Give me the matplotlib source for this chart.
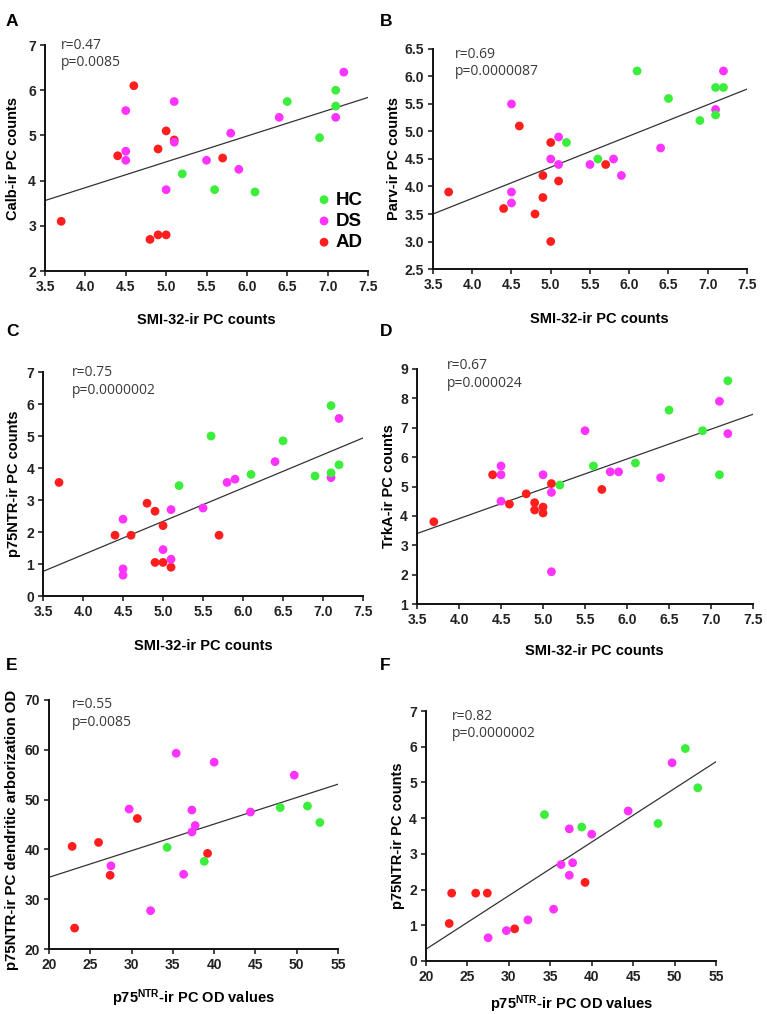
import numpy as np
import matplotlib
matplotlib.use("Agg")
import matplotlib.pyplot as plt

plt.rcParams['font.family'] = ['Liberation Sans', 'DejaVu Sans']
plt.rcParams['mathtext.fontset'] = 'custom'
plt.rcParams['mathtext.rm'] = 'Liberation Sans:bold'
plt.rcParams['mathtext.bf'] = 'Liberation Sans:bold'
plt.rcParams['mathtext.default'] = 'bf'

# Group colours
C_HC = '#3cee3c'
C_DS = '#ff33ff'
C_AD = '#ff1e1e'

# SMI-32-ir PC counts (x axis of panels A-D)
smi_ad = [3.7, 4.4, 4.6, 4.8, 4.9, 4.9, 5.0, 5.0, 5.1, 5.7]
smi_ds = [4.5, 4.5, 4.5, 5.0, 5.1, 5.1, 5.5, 5.8, 5.9, 6.4, 7.1, 7.2]
smi_hc = [5.2, 5.6, 6.1, 6.5, 6.9, 7.1, 7.1, 7.2]
smi_hc_calb = [5.2, 5.6, 6.1, 6.5, 6.9, 7.1, 7.1]
smi_hc_trka = [5.2, 5.6, 6.1, 6.5, 6.9, 7.1, 7.2]

# A: Calb-ir PC counts
calb_ad = [3.1, 4.55, 6.1, 2.7, 2.8, 4.7, 2.8, 5.1, 4.9, 4.5]
calb_ds = [5.55, 4.65, 4.45, 3.8, 5.75, 4.85, 4.45, 5.05, 4.25, 5.4, 5.4, 6.4]
calb_hc = [4.15, 3.8, 3.75, 5.75, 4.95, 6.0, 5.65]

# B: Parv-ir PC counts
parv_ad = [3.9, 3.6, 5.1, 3.5, 3.8, 4.2, 4.8, 3.0, 4.1, 4.4]
parv_ds = [5.5, 3.9, 3.7, 4.5, 4.9, 4.4, 4.4, 4.5, 4.2, 4.7, 5.4, 6.1]
parv_hc = [4.8, 4.5, 6.1, 5.6, 5.2, 5.8, 5.3, 5.8]

# C: p75NTR-ir PC counts
p75_ad = [3.55, 1.9, 1.9, 2.9, 2.65, 1.05, 2.2, 1.05, 0.9, 1.9]
p75_ds = [2.4, 0.85, 0.65, 1.45, 2.7, 1.15, 2.75, 3.55, 3.65, 4.2, 3.7, 5.55]
p75_hc = [3.45, 5.0, 3.8, 4.85, 3.75, 5.95, 3.85, 4.1]

# D: TrkA-ir PC counts
trka_ad = [3.8, 5.4, 4.4, 4.75, 4.45, 4.2, 4.3, 4.1, 5.1, 4.9]
trka_ds = [5.7, 5.4, 4.5, 5.4, 4.8, 2.1, 6.9, 5.5, 5.5, 5.3, 7.9, 6.8]
trka_hc = [5.05, 5.7, 5.8, 7.6, 6.9, 5.4, 8.6]

# p75NTR-ir PC OD values (x axis of panels E-F)
od_ad = [22.8, 23.1, 26.0, 27.4, 30.7, 39.2]
od_ds = [27.5, 29.7, 32.3, 35.4, 36.3, 37.3, 37.3, 37.7, 40.0, 44.4, 49.7]
od_hc = [34.3, 38.8, 48.0, 51.3, 52.8]

# E: p75NTR-ir PC dendritic arborization OD
dend_ad = [40.6, 24.2, 41.4, 34.8, 46.2, 39.2]
dend_ds = [36.7, 48.1, 27.7, 59.3, 35.0, 47.9, 43.5, 44.8, 57.5, 47.5, 54.9]
dend_hc = [40.4, 37.6, 48.4, 48.7, 45.4]

# F: p75NTR-ir PC counts vs OD
p75c_ad = [1.05, 1.9, 1.9, 1.9, 0.9, 2.2]
p75c_ds = [0.65, 0.85, 1.15, 1.45, 2.7, 2.4, 3.7, 2.75, 3.55, 4.2, 5.55]
p75c_hc = [4.1, 3.75, 3.85, 5.95, 4.85]

# Regression lines (intercept, slope)
fit_a = (1.565, 0.57)
fit_b = (1.514, 0.5675)
fit_c = (-2.879, 1.0425)
fit_d = (-0.1525, 1.015)
fit_e = (23.72, 0.534)
fit_f = (-2.67, 0.15)

stats_a = "r=0.47\np=0.0085"
stats_b = "r=0.69\np=0.0000087"
stats_c = "r=0.75\np=0.0000002"
stats_d = "r=0.67\np=0.000024"
stats_e = "r=0.55\np=0.0085"
stats_f = "r=0.82\np=0.0000002"

SMI_LABEL = "SMI-32-ir PC counts"
OD_LABEL = r"p75$^{NTR}$-ir PC OD values"


fig = plt.figure(figsize=(7.67, 10.14), dpi=100)


def make_panel(rect, xs, ys, fit, stats, xlim, xticks, xfmt, ylim, yticks,
               yfmt, ylabel, xlabel, ylab_x, xlab_y, xlab_x, stat_pos,
               ylab_size=10.5, ylab_y=0.5):
    ax = fig.add_axes(rect)
    # Scatter each group: AD drawn first, HC last
    for x, y, c in zip(xs, ys, [C_AD, C_DS, C_HC]):
        ax.scatter(x, y, s=40, color=c, edgecolors='none', zorder=3)

    # Regression line over the full x range
    xl = np.array(xlim, dtype=float)
    ax.plot(xl, fit[0] + fit[1] * xl, color='#333333', lw=0.9, zorder=2)

    ax.set_xlim(xlim)
    ax.set_ylim(ylim)
    ax.set_xticks(xticks)
    ax.set_xticklabels([xfmt.format(v) for v in xticks])
    ax.set_yticks(yticks)
    ax.set_yticklabels([yfmt.format(v) for v in yticks])

    for s in ['top', 'right']:
        ax.spines[s].set_visible(False)
    for s in ['left', 'bottom']:
        ax.spines[s].set_linewidth(1.4)
        ax.spines[s].set_color('#111111')
    ax.tick_params(direction='out', length=3.5, width=1.1, color='#111111',
                   labelsize=10, labelcolor='#222222', pad=3)
    for lab in ax.get_xticklabels() + ax.get_yticklabels():
        lab.set_fontweight('bold')

    ax.set_ylabel(ylabel, fontsize=ylab_size, fontweight='bold')
    ax.yaxis.set_label_coords(ylab_x, ylab_y)
    ax.set_xlabel(xlabel, fontsize=10.5, fontweight='bold')
    ax.xaxis.set_label_coords(xlab_x, xlab_y)

    ax.text(stat_pos[0], stat_pos[1], stats, transform=ax.transAxes,
            fontsize=10, color='#3a3a3a', va='top', ha='left',
            family=['Open Sans', 'DejaVu Sans'], linespacing=1.2)
    return ax


smi_ticks = np.arange(3.5, 7.51, 0.5)
od_ticks = np.arange(20, 56, 5)

# Panel A
ax_a = make_panel([0.0587, 0.7327, 0.4211, 0.2229],
                  [smi_ad, smi_ds, smi_hc_calb], [calb_ad, calb_ds, calb_hc],
                  fit_a, stats_a, (3.5, 7.5), smi_ticks, "{:.1f}",
                  (2, 7), np.arange(2, 8), "{:.0f}",
                  "Calb-ir PC counts", SMI_LABEL, -0.078, -0.185, 0.5,
                  (0.05, 1.03))

# Legend for panel A
hc = ax_a.scatter([], [], s=40, color=C_HC, edgecolors='none')
ds = ax_a.scatter([], [], s=40, color=C_DS, edgecolors='none')
ad = ax_a.scatter([], [], s=40, color=C_AD, edgecolors='none')
leg = ax_a.legend([hc, ds, ad], ["HC", "DS", "AD"], loc='center left',
                  bbox_to_anchor=(0.80, 0.22), frameon=False,
                  handletextpad=0.0, labelspacing=0.22, borderpad=0,
                  handlelength=1.2,
                  prop={'size': 13.5, 'weight': 'bold'})

# Panel B
make_panel([0.5645, 0.7347, 0.4094, 0.2170],
           [smi_ad, smi_ds, smi_hc], [parv_ad, parv_ds, parv_hc],
           fit_b, stats_b, (3.5, 7.5), smi_ticks, "{:.1f}",
           (2.5, 6.5), np.arange(2.5, 6.51, 0.5), "{:.1f}",
           "Parv-ir PC counts", SMI_LABEL, -0.103, -0.195, 0.53,
           (0.07, 1.01))

# Panel C
make_panel([0.0561, 0.4122, 0.4172, 0.2209],
           [smi_ad, smi_ds, smi_hc], [p75_ad, p75_ds, p75_hc],
           fit_c, stats_c, (3.5, 7.5), smi_ticks, "{:.1f}",
           (0, 7), np.arange(0, 8), "{:.0f}",
           "p75NTR-ir PC counts", SMI_LABEL, -0.07, -0.19, 0.5,
           (0.09, 1.03))

# Panel D
make_panel([0.5437, 0.4043, 0.4381, 0.2318],
           [smi_ad, smi_ds, smi_hc_trka], [trka_ad, trka_ds, trka_hc],
           fit_d, stats_d, (3.5, 7.5), smi_ticks, "{:.1f}",
           (1, 9), np.arange(1, 10), "{:.0f}",
           "TrkA-ir PC counts", SMI_LABEL, -0.063, -0.17, 0.527,
           (0.09, 1.045))

# Panel E
make_panel([0.0639, 0.0641, 0.3768, 0.2456],
           [od_ad, od_ds, od_hc], [dend_ad, dend_ds, dend_hc],
           fit_e, stats_e, (20, 55), od_ticks, "{:.0f}",
           (20, 70), np.arange(20, 71, 10), "{:.0f}",
           "p75NTR-ir PC dendritic arborization OD", OD_LABEL,
           -0.104, -0.155, 0.5, (0.08, 1.01), ylab_size=10.8, ylab_y=0.48)

# Panel F
make_panel([0.5554, 0.0523, 0.3781, 0.2465],
           [od_ad, od_ds, od_hc], [p75c_ad, p75c_ds, p75c_hc],
           fit_f, stats_f, (20, 55), od_ticks, "{:.0f}",
           (0, 7), np.arange(0, 8), "{:.0f}",
           "p75NTR-ir PC counts", OD_LABEL, -0.072, -0.13, 0.5,
           (0.09, 1.01))

# Panel letters
for letter, x, y in [("A", 6, 21), ("B", 380, 21), ("C", 6, 332),
                     ("D", 380, 332), ("E", 6, 666), ("F", 380, 666)]:
    fig.text(x / 767, 1 - y / 1014, letter, fontsize=12.5, fontweight='bold',
             ha='left', va='center')

fig.savefig("out.png", dpi=100)
